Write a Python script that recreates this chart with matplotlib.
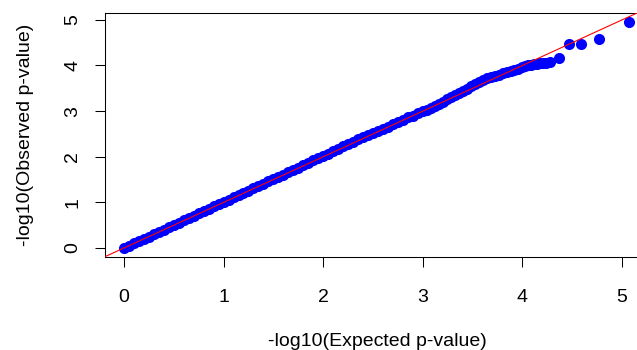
import matplotlib
matplotlib.use("Agg")
import matplotlib.pyplot as plt

plt.rcParams['font.family'] = ['Liberation Sans', 'DejaVu Sans']

# -log10 expected vs observed p-values
expected = [0.00, 0.05, 0.10, 0.15, 0.20, 0.25, 0.30, 0.35, 0.40, 0.45,
            0.50, 0.55, 0.60, 0.65, 0.70, 0.75, 0.80, 0.85, 0.90, 0.95,
            1.00, 1.05, 1.10, 1.15, 1.20, 1.25, 1.30, 1.35, 1.40, 1.45,
            1.50, 1.55, 1.60, 1.65, 1.70, 1.75, 1.80, 1.85, 1.90, 1.95,
            2.00, 2.05, 2.10, 2.15, 2.20, 2.25, 2.30, 2.35, 2.40, 2.45,
            2.50, 2.55, 2.60, 2.65, 2.70, 2.75, 2.80, 2.85, 2.90, 2.95,
            3.00, 3.04, 3.08, 3.12, 3.16, 3.20, 3.24, 3.28, 3.32, 3.36,
            3.40, 3.44, 3.48, 3.52, 3.56, 3.60, 3.64, 3.68, 3.72, 3.76,
            3.80, 3.84, 3.88, 3.92, 3.96, 4.00, 4.03, 4.06, 4.09, 4.12,
            4.15, 4.18, 4.21, 4.24, 4.28, 4.37, 4.47, 4.59, 4.77, 5.07]
observed = [0.00, 0.05, 0.10, 0.15, 0.20, 0.25, 0.30, 0.35, 0.40, 0.45,
            0.50, 0.55, 0.61, 0.66, 0.71, 0.76, 0.81, 0.86, 0.91, 0.96,
            1.01, 1.06, 1.11, 1.16, 1.21, 1.26, 1.31, 1.36, 1.41, 1.46,
            1.51, 1.56, 1.61, 1.66, 1.71, 1.76, 1.82, 1.87, 1.92, 1.97,
            2.02, 2.07, 2.12, 2.17, 2.23, 2.28, 2.33, 2.38, 2.43, 2.47,
            2.52, 2.57, 2.61, 2.66, 2.71, 2.76, 2.81, 2.86, 2.90, 2.95,
            3.00, 3.03, 3.07, 3.11, 3.16, 3.21, 3.26, 3.30, 3.35, 3.39,
            3.44, 3.49, 3.54, 3.59, 3.64, 3.68, 3.72, 3.75, 3.78, 3.80,
            3.83, 3.86, 3.88, 3.91, 3.93, 3.96, 3.98, 4.00, 4.01, 4.03,
            4.04, 4.05, 4.05, 4.06, 4.07, 4.16, 4.46, 4.47, 4.58, 4.95]
ticks = [0, 1, 2, 3, 4, 5]

fig = plt.figure(figsize=(6.37, 3.5), dpi=100)
# plot box runs past the right edge of the picture, as in the reference
ax = fig.add_axes([105 / 637, 93 / 350, 543 / 637, 244 / 350])

ax.scatter(expected, observed, s=64, color='blue', linewidths=0, zorder=2)
ax.axline((0, 0), slope=1, color='red', lw=0.8, zorder=3)

ax.set_xlim(-0.19, 5.26)
ax.set_ylim(-0.197, 5.15)
ax.set_xticks(ticks)
ax.set_yticks(ticks)
ax.tick_params(direction='out', length=7.2, width=0.75, labelsize=14, color='black')
ax.tick_params(axis='x', pad=16)
ax.tick_params(axis='y', pad=10)
for lab in ax.get_yticklabels():
    lab.set_rotation(90)
    lab.set_va('center')

for sp in ax.spines.values():
    sp.set_linewidth(0.75)
    sp.set_color('black')

fig.text(377 / 637, 1 - 341 / 350, '-log10(Expected p-value)', ha='center', va='center', fontsize=14)
fig.text(26 / 637, 1 - 135 / 350, '-log10(Observed p-value)', ha='center', va='center',
         rotation=90, fontsize=14)

fig.savefig('out.png', dpi=100)
